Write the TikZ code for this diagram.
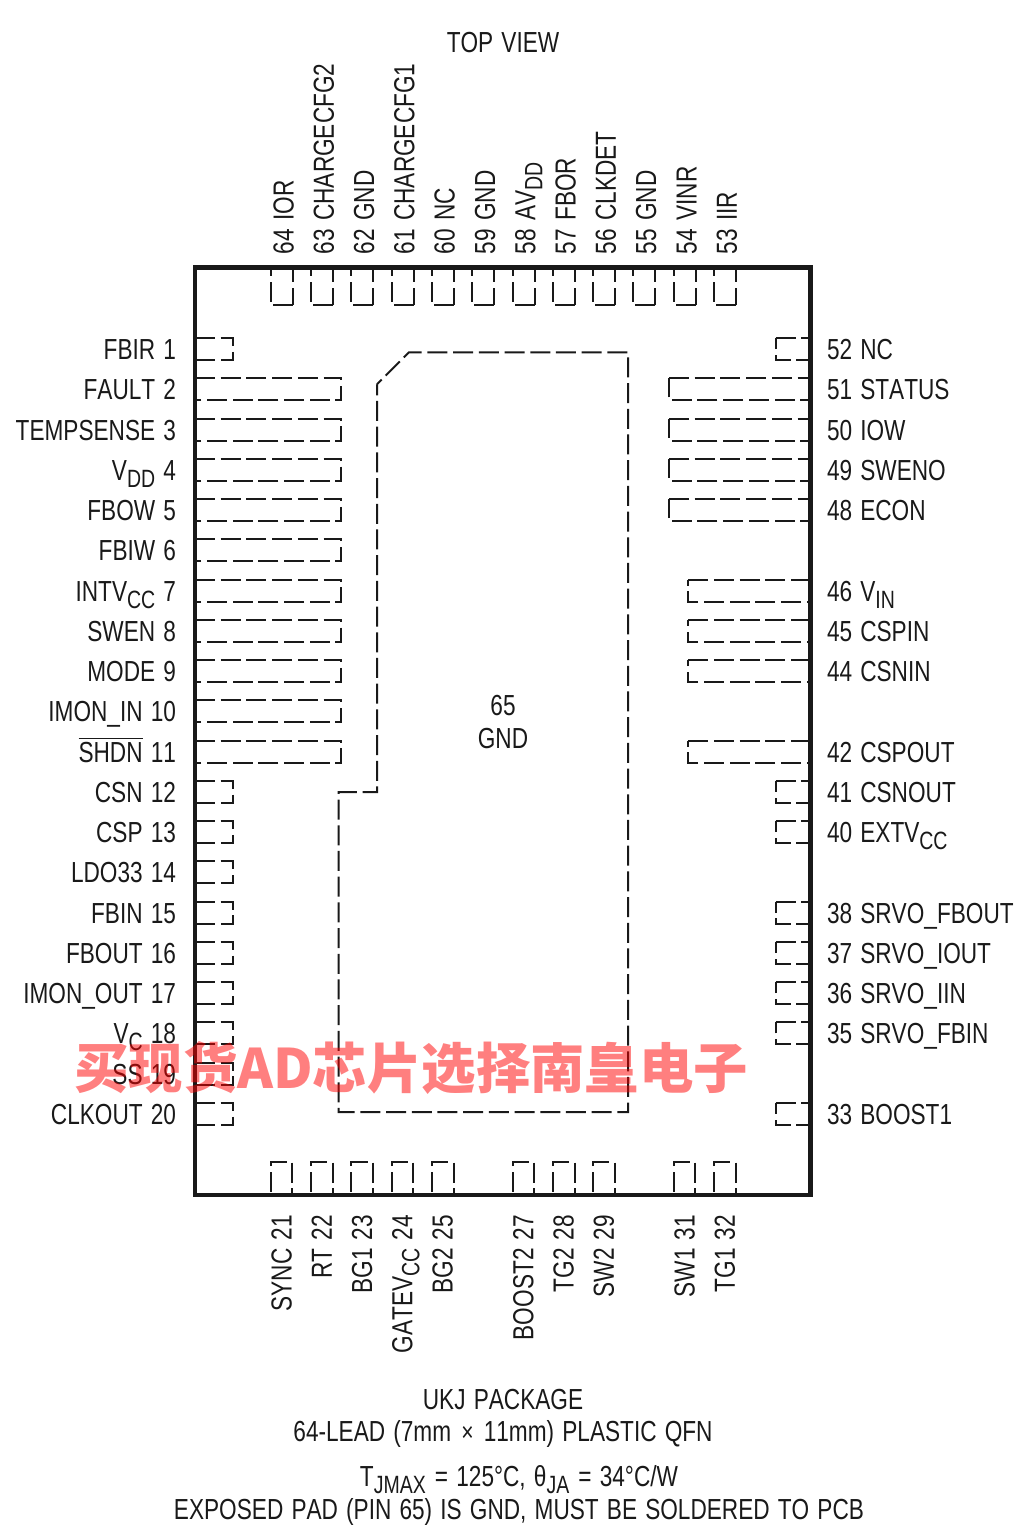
\documentclass[tikz,border=0pt]{standalone}
\usepackage{fontspec}
\setmainfont[FakeStretch=0.78,Kerning=Off,WordSpace=1.3]{Liberation Sans}
\newfontfamily\wmfont{Noto Sans CJK SC}
\newcommand{\lowsub}[1]{\raisebox{-7pt}{\fontsize{25}{25}\selectfont #1}}
\newcommand{\topbar}[1]{\setbox0\hbox{#1}\rlap{\rule[23.4pt]{\wd0}{1pt}}#1}
\def\rowpitch{40.25}
\def\colpitch{40.3}

\begin{document}
\begin{tikzpicture}[x=1pt,y=-1pt]
  \tikzstyle{pad}=[draw=black!90,line width=2pt,dash pattern=on 20pt off 5.7pt]
  \tikzstyle{pinlabel}=[inner sep=0pt,outer sep=0pt,text=black!90,font=\fontsize{29}{29}\selectfont]
  \tikzstyle{leftlabel}=[pinlabel,anchor=base east]
  \tikzstyle{rightlabel}=[pinlabel,anchor=base west]
  \tikzstyle{toplabel}=[pinlabel,anchor=base west,rotate=90]
  \tikzstyle{bottomlabel}=[pinlabel,anchor=base east,rotate=90]
  \tikzstyle{note}=[pinlabel,anchor=base]
  \useasboundingbox (0,0) rectangle (1033,1540);

  % Pads of the left side
  \foreach \row/\padend in {1/232.5,2/341.3,3/341.3,4/341.3,5/341.3,6/341.3,7/341.3,8/341.3,9/341.3,10/341.3,11/341.3,12/232.5,13/232.5,14/232.5,15/232.5,16/232.5,17/232.5,18/232.5,19/232.5,20/232.5}
  \draw[pad] (195,349+\rowpitch*\row-\rowpitch-11) -- (\padend,349+\rowpitch*\row-\rowpitch-11) -- (\padend,349+\rowpitch*\row-\rowpitch+11) -- (195,349+\rowpitch*\row-\rowpitch+11);

  % Pads of the right side
  \foreach \row/\padstart in {1/775.7,2/669,3/669,4/669,5/669,7/688.3,8/688.3,9/688.3,11/688.3,12/775.7,13/775.7,15/775.7,16/775.7,17/775.7,18/775.7,20/775.7}
  \draw[pad] (\padstart,349+\rowpitch*\row-\rowpitch-11) -- (810.7,349+\rowpitch*\row-\rowpitch-11) -- (810.7,349+\rowpitch*\row-\rowpitch+11) -- (\padstart,349+\rowpitch*\row-\rowpitch+11) -- cycle;

  % Pads of the top side
  \foreach \col in {0,...,11}
  \draw[pad] (292.7+\colpitch*\col,305.3) -- (270.7+\colpitch*\col,305.3) -- (270.7+\colpitch*\col,267.3) -- (292.7+\colpitch*\col,267.3) -- cycle;

  % Pads of the bottom side
  \foreach \col in {0,1,2,3,4,6,7,8,10,11}
  \draw[pad] (270.7+\colpitch*\col,1191.7) -- (270.7+\colpitch*\col,1162.3) -- (292.4+\colpitch*\col,1162.3) -- (292.4+\colpitch*\col,1195);

  % Exposed pad
  \draw[pad,dash phase=13.4pt] (377,384.3) -- (409,352.3) -- (628,352.3) -- (628,1112) -- (338.7,1112) -- (338.7,792) -- (377,792) -- cycle;

  % Package body
  \draw[black!90,line width=4.5pt] (195,267.3) rectangle (810.7,1195);

  % Left labels
  \foreach \row/\lab in {1/FBIR 1,2/FAULT 2,3/TEMPSENSE 3,4/{V\lowsub{DD} 4},5/FBOW 5,6/FBIW 6,7/{INTV\lowsub{CC} 7},8/SWEN 8,9/MODE 9,10/IMON\_IN 10,11/{\topbar{SHDN} 11},12/CSN 12,13/CSP 13,14/LDO33 14,15/FBIN 15,16/FBOUT 16,17/IMON\_OUT 17,18/{V\lowsub{C} 18},19/SS 19,20/CLKOUT 20}
  \node[leftlabel] (L-\row) at (176,359.5+\rowpitch*\row-\rowpitch) {\lab};

  % Right labels
  \foreach \row/\lab in {1/52 NC,2/51 STATUS,3/50 IOW,4/49 SWENO,5/48 ECON,7/{46 V\lowsub{IN}},8/45 CSPIN,9/44 CSNIN,11/42 CSPOUT,12/41 CSNOUT,13/{40 EXTV\lowsub{CC}},15/38 SRVO\_FBOUT,16/37 SRVO\_IOUT,17/36 SRVO\_IIN,18/35 SRVO\_FBIN,20/33 BOOST1}
  \node[rightlabel] (R-\row) at (827,359.5+\rowpitch*\row-\rowpitch) {\lab};

  % Top labels
  \foreach \col/\lab in {0/64 IOR,1/63 CHARGECFG2,2/62 GND,3/61 CHARGECFG1,4/60 NC,5/59 GND,6/{58 AV\lowsub{DD}},7/57 FBOR,8/56 CLKDET,9/55 GND,10/54 VINR,11/53 IIR}
  \node[toplabel] (T-\col) at (293.5+\colpitch*\col,254) {\lab};

  % Bottom labels
  \foreach \col/\lab in {0/SYNC 21,1/RT 22,2/BG1 23,3/{GATEV\lowsub{CC} 24},4/BG2 25,6/BOOST2 27,7/TG2 28,8/SW2 29,10/SW1 31,11/TG1 32}
  \node[bottomlabel] (B-\col) at (291.5+\colpitch*\col,1215) {\lab};

  % Notes
  \node[note] (topview) at (503,52.5) {TOP VIEW};
  \node[note] (padnum) at (503,715.5) {65};
  \node[note] (padname) at (503,748) {GND};
  \node[note] (pkg) at (503,1409) {UKJ PACKAGE};
  \node[note] (lead) at (503,1441) {64-LEAD (7mm\hspace{2pt} {\fontsize{27}{27}\selectfont ×} \hspace{2pt}11mm) PLASTIC QFN};
  \node[note] (therm) at (519,1486) {T\lowsub{JMAX} \hspace{1pt}= 125°C, θ\lowsub{JA} \hspace{1pt}= 34°C/W};
  \node[note] (expad) at (519,1519) {EXPOSED PAD (PIN 65) IS GND, MUST BE SOLDERED TO PCB};

  % Watermark
  \node[inner sep=0pt,anchor=base west,text=red,text opacity=0.5,font=\wmfont\bfseries\fontsize{54.4}{54.4}\selectfont] (mark) at (74,1088) {买现货AD芯片选择南皇电子};
\end{tikzpicture}
\end{document}
